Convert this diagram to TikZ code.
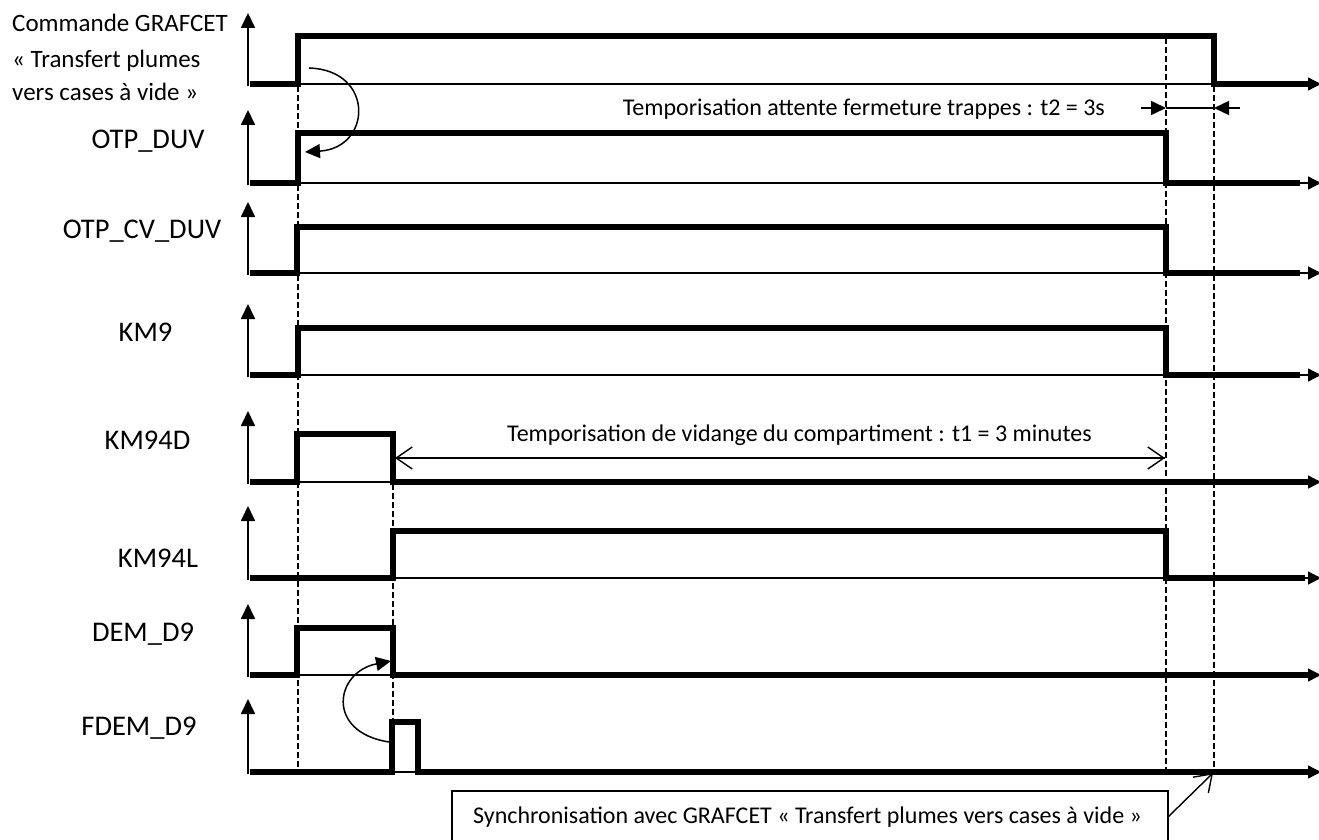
\documentclass[tikz,border=0pt]{standalone}
\usepackage{fontspec}
\setmainfont{Carlito}
\usetikzlibrary{arrows.meta}
\begin{document}
\begin{tikzpicture}[x=1pt,y=-1pt,
  sig/.style={line width=5.5pt, line join=miter, line cap=butt},
  base/.style={line width=1.3pt,-{Triangle[length=13pt,width=13pt]}},
  axis/.style={line width=1.8pt,-{Triangle[length=15pt,width=14pt]}},
  guide/.style={line width=1.4pt, dash pattern=on 6pt off 3pt},
  lbl/.style={font=\fontsize{28.5}{32}\selectfont, inner sep=0pt, anchor=base},
  cmd/.style={font=\fontsize{25}{29}\selectfont, inner sep=0pt, anchor=base west},
  ann/.style={font=\fontsize{24}{28}\selectfont, inner sep=0pt},
  dim/.style={line width=1.4pt},
  barb/.style={line width=1.4pt,-{Straight Barb[length=16pt,width=22pt,line width=1.4pt]}},
  fill arrow/.style={line width=1.5pt,-{Triangle[length=15pt,width=14pt]}},
]
\useasboundingbox (0,0) rectangle (1319,840);
\clip (0,0) rectangle (1319,840);

% labels
\node[cmd] (c1) at (12,32) {Commande GRAFCET};
\node[cmd] (c2) at (12,68) {« Transfert plumes};
\node[cmd] (c3) at (12,101) {vers cases à vide »};
\node[lbl] (l2) at (148,149) {OTP\_DUV};
\node[lbl] (l3) at (142,238) {OTP\_CV\_DUV};
\node[lbl] (l4) at (145.5,341) {KM9};
\node[lbl] (l5) at (147.5,449) {KM94D};
\node[lbl] (l6) at (158,567) {KM94L};
\node[lbl] (l7) at (143,641) {DEM\_D9};
\node[lbl] (l8) at (139,735) {FDEM\_D9};

% dashed guides
\draw[guide] (298,86) -- (298,772);
\draw[guide] (393,484) -- (393,722);
\draw[guide] (1166,38) -- (1166,772);
\draw[guide] (1214,86) -- (1214,772);

% axes
\foreach \b/\t in {84/13,183/110,273/202,375/304,482/411,578/506,675/604,772/699}
  \draw[axis] (248,\b+2) -- (248,\t);

% thin baselines with end arrows
\draw[base] (298,84) -- (1321,84);
\draw[base] (298,183) -- (1321,183);
\draw[base] (297,273) -- (1321,273);
\draw[base] (298,375) -- (1321,375);
\draw[base] (297,482) -- (1321,482);
\draw[base] (393,578) -- (1321,578);
\draw[base] (297,675) -- (1321,675);
\draw[base] (392,772) -- (1321,772);

% signals
\draw[sig] (250,84) -- (298,84) -- (298,36) -- (1214,36) -- (1214,84) -- (1308,84);
\draw[sig] (250,183) -- (298,183) -- (298,133) -- (1166,133) -- (1166,183) -- (1300,183);
\draw[sig] (250,273) -- (297,273) -- (297,227) -- (1166,227) -- (1166,273) -- (1300,273);
\draw[sig] (250,375) -- (298,375) -- (298,328) -- (1166,328) -- (1166,375) -- (1300,375);
\draw[sig] (250,482) -- (297,482) -- (297,434) -- (393,434) -- (393,482) -- (1308,482);
\draw[sig] (250,578) -- (393,578) -- (393,531) -- (1166,531) -- (1166,578) -- (1305,578);
\draw[sig] (250,675) -- (297,675) -- (297,628) -- (393,628) -- (393,675) -- (1308,675);
\draw[sig] (250,772) -- (392,772) -- (392,722) -- (418,722) -- (418,772) -- (1308,772);

% causal curved arrows
\coordinate (g1) at (309,68);
\coordinate (o1) at (305,152);
\draw[fill arrow] (g1) .. controls (375,70) and (372,148) .. (o1);
\coordinate (f1) at (389,742);
\coordinate (d1) at (391,661);
\draw[fill arrow] (f1) .. controls (325,732) and (335,672) .. (d1);

% t1 dimension
\coordinate (t1a) at (395,458);
\coordinate (t1b) at (1165,458);
\draw[barb] (t1b) -- (t1a);
\draw[barb] (t1a) -- (t1b);
\node[ann, anchor=base west] (t1) at (507,441) {Temporisation de vidange du compartiment : t1 = 3 minutes};

% t2 dimension
\coordinate (t2a) at (1166,108);
\coordinate (t2b) at (1214,108);
\draw[dim] (t2a) -- (t2b);
\draw[fill arrow] (1141,108) -- (t2a);
\draw[fill arrow] (1240,108) -- (t2b);
\node[ann, anchor=base east] (t2) at (1105,116) {Temporisation attente fermeture trappes : t2 = 3s};

% sync box
\draw[line width=1.2pt] (452,850) -- (452,791) -- (1168,791) -- (1168,850);
\node[ann, anchor=base west] (sync) at (473,823) {Synchronisation avec GRAFCET « Transfert plumes vers cases à vide »};
\coordinate (sb) at (1168,817);
\coordinate (se) at (1213,773);
\draw[barb] (sb) -- (se);
\end{tikzpicture}
\end{document}
